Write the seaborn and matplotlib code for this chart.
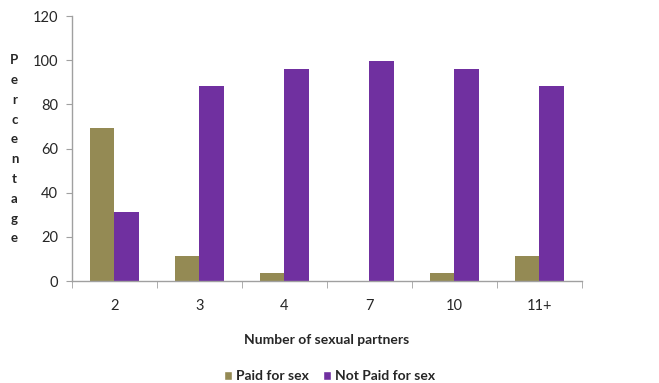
import pandas as pd
import matplotlib
matplotlib.use("Agg")
import matplotlib.pyplot as plt
import seaborn as sns
from matplotlib.patches import Patch

partners = ["2", "3", "4", "7", "10", "11+"]
paid = [69.5, 11.5, 3.8, 0, 3.8, 11.5]
not_paid = [31.3, 88.5, 96, 99.7, 96, 88.5]
groups = ["Paid for sex", "Not Paid for sex"]
colors = ["#948A54", "#7030A0"]

df = pd.DataFrame({
    "partners": partners * 2,
    "pct": paid + not_paid,
    "group": [groups[0]] * len(partners) + [groups[1]] * len(partners),
})

sns.set_style("white")
plt.rcParams["font.family"] = ["Lato", "DejaVu Sans"]

fig = plt.figure(figsize=(6.59, 3.83), dpi=100)
ax = fig.add_axes([0.109, 0.266, 0.774, 0.692])

sns.barplot(data=df, x="partners", y="pct", hue="group", order=partners,
            hue_order=groups, palette=colors, width=0.57, gap=0,
            saturation=1, linewidth=0, ax=ax, legend=False)

ax.set_ylim(0, 120)
ax.set_yticks(range(0, 121, 20))
ax.set_xlim(-0.5, len(partners) - 0.5)
ax.set_xticks(range(len(partners)))
ax.set_xticks([i - 0.5 for i in range(len(partners) + 1)], minor=True)
ax.tick_params(axis="x", which="major", length=0, pad=13, labelsize=10.5)
ax.tick_params(axis="x", which="minor", length=5, color="#a0a0a0", direction="out")
ax.tick_params(axis="y", length=4, color="#a0a0a0", direction="out", labelsize=10.5, pad=6)
ax.xaxis.set_tick_params(bottom=True, which="both")
ax.yaxis.set_tick_params(left=True)

for s in ["top", "right"]:
    ax.spines[s].set_visible(False)
for s in ["left", "bottom"]:
    ax.spines[s].set_color("#a0a0a0")
    ax.spines[s].set_linewidth(1)

ax.set_xlabel("Number of sexual partners", fontweight="bold", fontsize=10, labelpad=15)
ax.set_ylabel("")
fig.text(0.022, 0.61, "\n".join("Percentage"), fontweight="bold", fontsize=9.5,
         ha="center", va="center", linespacing=1.78)

handles = [Patch(facecolor=c, label=g) for c, g in zip(colors, groups)]
fig.legend(handles=handles, loc="lower center", bbox_to_anchor=(0.5, -0.03), ncol=2,
           frameon=False, handlelength=0.6, handleheight=0.6,
           handletextpad=0.3, columnspacing=1.0, prop={"weight": "bold", "size": 10})

fig.savefig("out.png", dpi=100)
